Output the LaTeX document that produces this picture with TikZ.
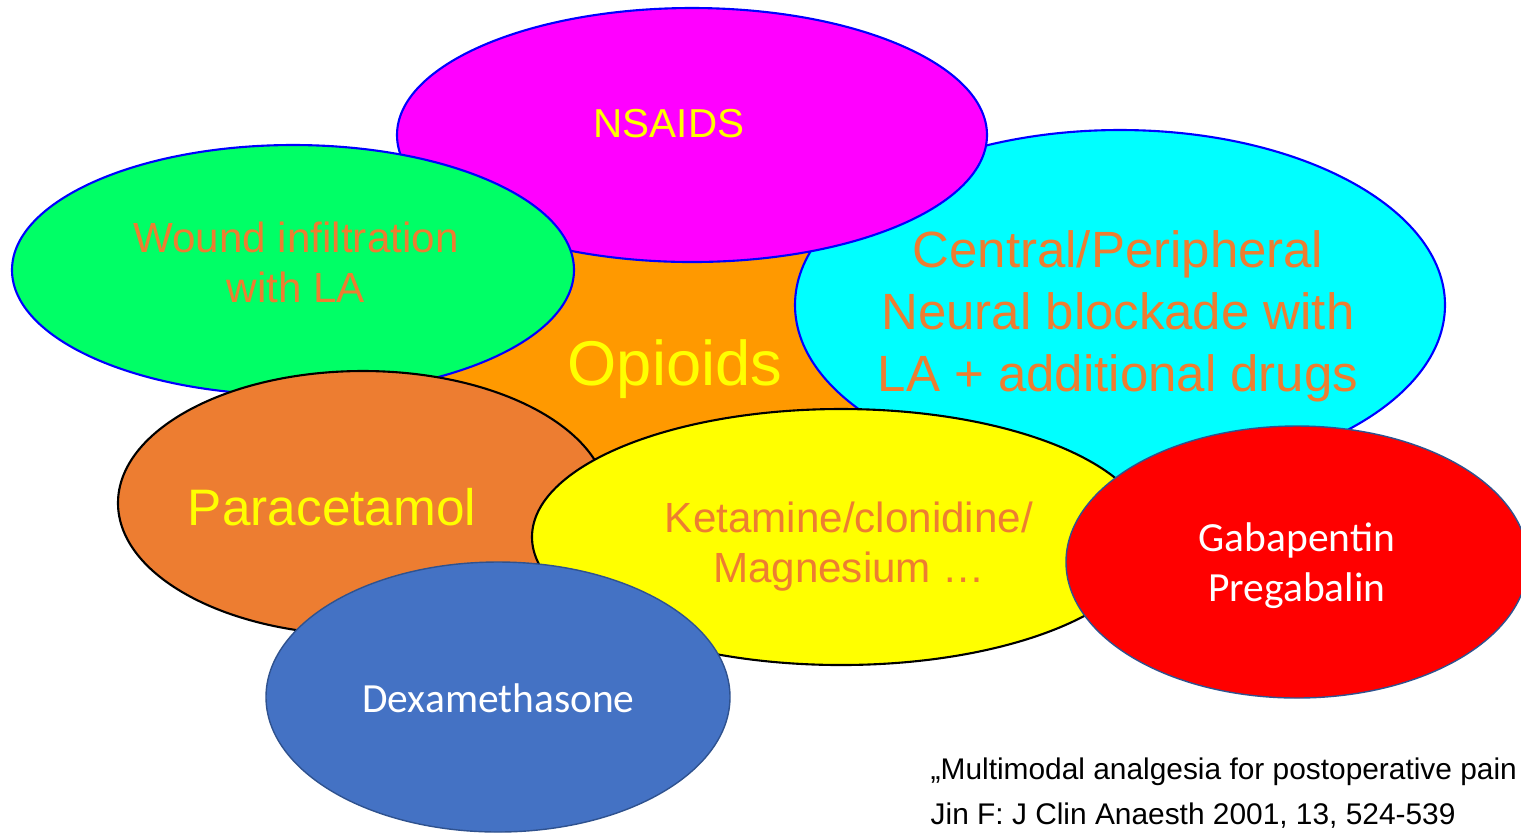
\documentclass[tikz,border=0pt]{standalone}
\usepackage{fontspec}
\setmainfont{Liberation Sans}
\newfontfamily\calibri{Carlito}
\usetikzlibrary{shapes.geometric}

\definecolor{opioidfill}{HTML}{FF9900}
\definecolor{nsaidfill}{HTML}{FF00FF}
\definecolor{woundfill}{HTML}{00FF66}
\definecolor{blockfill}{HTML}{00FFFF}
\definecolor{paracfill}{HTML}{ED7D31}
\definecolor{ketafill}{HTML}{FFFF00}
\definecolor{gabafill}{HTML}{FF0000}
\definecolor{dexafill}{HTML}{4472C4}
\definecolor{darkedge}{HTML}{2F528F}
\definecolor{txtorange}{HTML}{ED7D31}
\definecolor{txtyellow}{HTML}{FFFF00}

\begin{document}
\begin{tikzpicture}[
    bubble/.style={ellipse, inner sep=0pt},
    blueedge/.style={draw=blue, line width=0.6pt},
    blackedge/.style={draw=black, line width=0.6pt},
    darkedge/.style={draw=darkedge, line width=0.4pt},
    txt/.style={align=center, inner sep=0pt}
    ]

    \clip (0,0) rectangle (15.21,-8.33);

    % back: opioids
    \node[bubble, fill=opioidfill, minimum width=5.2cm, minimum height=2.6cm] (opioids) at (6.90,-3.50) {};
    \node[txt, text=txtyellow, font=\fontsize{18}{21}\selectfont] (opioidstxt) at (6.75,-3.69) {Opioids};

    \node[bubble, blueedge, fill=blockfill, minimum width=6.5cm, minimum height=3.5cm] (block) at (11.20,-3.05) {};
    \node[txt, text=txtorange, font=\fontsize{14.5}{17.6}\selectfont] (blocktxt) at (11.18,-3.16) {Central/Peripheral\\Neural blockade with\\LA + additional drugs};

    \node[bubble, blueedge, fill=nsaidfill, minimum width=5.9cm, minimum height=2.54cm] (nsaids) at (6.92,-1.35) {};
    \node[txt, text=txtyellow, font=\fontsize{11.5}{14}\selectfont] (nsaidstxt) at (6.69,-1.24) {NSAIDS};

    \node[bubble, blueedge, fill=woundfill, minimum width=5.62cm, minimum height=2.5cm] (wound) at (2.93,-2.70) {};
    \node[txt, text=txtorange, font=\fontsize{12}{14.2}\selectfont] (woundtxt) at (2.96,-2.62) {Wound infiltration\\with LA};

    % front row
    \node[bubble, blackedge, fill=paracfill, minimum width=4.9cm, minimum height=2.64cm] (parac) at (3.63,-5.03) {};
    \node[txt, text=txtyellow, font=\fontsize{14.6}{17}\selectfont] (paractxt) at (3.32,-5.07) {Paracetamol};

    \node[bubble, blackedge, fill=ketafill, minimum width=6.18cm, minimum height=2.56cm] (keta) at (8.41,-5.37) {};
    \node[txt, text=txtorange, font=\fontsize{12}{14.2}\selectfont] (ketatxt) at (8.49,-5.47) {Ketamine/clonidine/\\Magnesium \dots};

    \node[bubble, darkedge, fill=gabafill, minimum width=4.62cm, minimum height=2.72cm] (gaba) at (12.97,-5.62) {};
    \node[txt, text=white, font=\calibri\fontsize{11.8}{14.2}\selectfont] (gabatxt) at (12.97,-5.66) {Gabapentin\\Pregabalin};

    \node[bubble, darkedge, fill=dexafill, minimum width=4.64cm, minimum height=2.70cm] (dexa) at (4.98,-6.97) {};
    \node[txt, text=white, font=\calibri\fontsize{11.8}{14.2}\selectfont] (dexatxt) at (4.985,-6.98) {Dexamethasone};

    % citation
    \node[anchor=base west, inner sep=0pt, font=\fontsize{8.5}{10}\selectfont] (cite1) at (9.30,-7.79) {„Multimodal analgesia for postoperative pain};
    \node[anchor=base west, inner sep=0pt, font=\fontsize{8.5}{10}\selectfont] (cite2) at (9.30,-8.24) {Jin F: J Clin Anaesth 2001, 13, 524-539};

\end{tikzpicture}
\end{document}
